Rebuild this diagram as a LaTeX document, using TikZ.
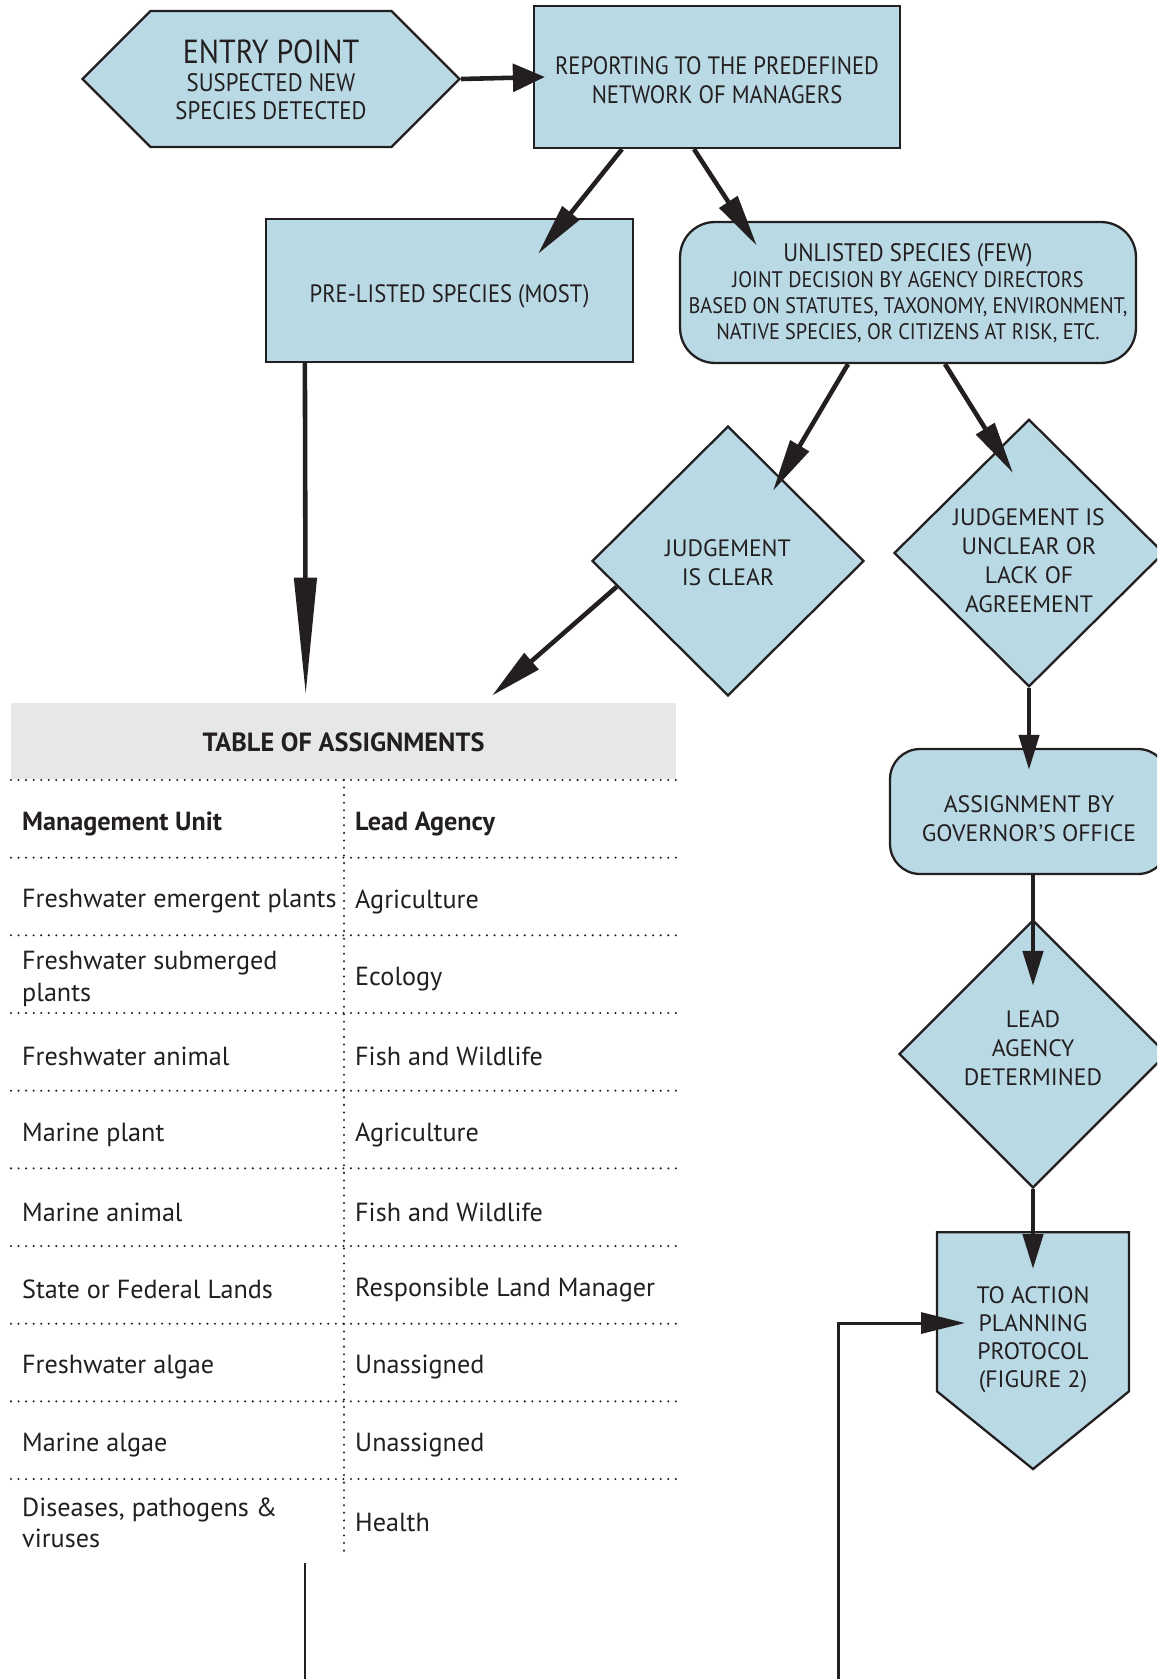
\documentclass[tikz,border=0pt]{standalone}
\usepackage{fontspec}
\setmainfont{PT Sans}
\newfontfamily\narrowfont{PT Sans}[FakeStretch=0.9]
\usetikzlibrary{positioning,arrows.meta,shapes.geometric,shapes.symbols}

\definecolor{boxblue}{RGB}{185,217,229}
\definecolor{headgray}{RGB}{230,231,232}
\definecolor{inkc}{RGB}{35,31,32}

% lines of a box, moved down by #1 inside the node
\newcommand{\droptext}[2]{%
  \raisebox{-#1}[\height][\depth]{\begin{tabular}{@{}c@{}}#2\end{tabular}}}

\begin{document}
\begin{tikzpicture}[
  x=0.02cm, y=-0.02cm,
  every node/.style={text=inkc},
  >={Triangle[length=1.05cm,width=0.42cm]},
  box/.style={draw=inkc, fill=boxblue, line width=1.3pt, align=center, inner sep=0pt},
  rbox/.style={box, rounded corners=0.7cm},
  dia/.style={box, diamond, font=\fontsize{13.5}{16.5}\selectfont},
  arr/.style={draw=inkc, line width=2.6pt, ->},
  vhead/.style={-{Triangle[length=0.7cm,width=0.4cm]}},
  cell/.style={anchor=west, align=left, font=\fontsize{14.9}{18}\selectfont},
  dotline/.style={draw=inkc, line width=1.3pt, line cap=round, dash pattern=on 0pt off 4.3pt},
]
\clip (0,0) rectangle (1157,1679);

% flow boxes
\node[box, signal, signal to=west and east, signal pointer angle=90,
      minimum width=7.54cm, minimum height=2.72cm,
      font=\narrowfont\fontsize{14.4}{16}\selectfont] (entry) at (271,79)
  {\droptext{2.6pt}{{\fontsize{19}{20}\selectfont ENTRY POINT}\\
   SUSPECTED NEW\\SPECIES DETECTED}};
\node[box, minimum width=7.32cm, minimum height=2.84cm,
      font=\narrowfont\fontsize{14.3}{16.5}\selectfont] (report) at (717,77)
  {\droptext{3.7pt}{REPORTING TO THE PREDEFINED\\NETWORK OF MANAGERS}};
\node[box, minimum width=7.34cm, minimum height=2.86cm,
      font=\narrowfont\fontsize{14.3}{16.5}\selectfont] (pre) at (449.5,290.5)
  {\droptext{3.7pt}{PRE-LISTED SPECIES (MOST)}};
\node[rbox, minimum width=9.12cm, minimum height=2.82cm,
      font=\narrowfont\fontsize{12.8}{14.8}\selectfont] (unlisted) at (908,292.5)
  {\droptext{1.8pt}{{\fontsize{14.4}{14.8}\selectfont UNLISTED SPECIES (FEW)}\\
   JOINT DECISION BY AGENCY DIRECTORS\\
   BASED ON STATUTES, TAXONOMY, ENVIRONMENT,\\
   NATIVE SPECIES, OR CITIZENS AT RISK, ETC.}};
\node[dia, minimum width=5.44cm, minimum height=5.4cm] (clear) at (728,561)
  {\droptext{2.3pt}{JUDGEMENT\\IS CLEAR}};
\node[dia, minimum width=5.4cm, minimum height=5.34cm] (unclear) at (1029,553)
  {\droptext{6pt}{JUDGEMENT IS\\UNCLEAR OR\\LACK OF\\AGREEMENT}};
\node[rbox, rounded corners=0.6cm, minimum width=5.56cm, minimum height=2.5cm,
      font=\fontsize{13.5}{16.5}\selectfont] (governor) at (1029,811.5)
  {\droptext{5.4pt}{ASSIGNMENT BY\\GOVERNOR'S OFFICE}};
\node[dia, minimum width=5.36cm, minimum height=5.36cm] (lead) at (1033,1054)
  {\droptext{-2pt}{LEAD\\AGENCY\\DETERMINED}};
\node[box, signal, signal to=south, signal pointer angle=102,
      minimum width=3.84cm, minimum height=4.1cm, anchor=north,
      font=\fontsize{13.5}{16}\selectfont] (action) at (1033,1231)
  {\droptext{16pt}{TO ACTION\\PLANNING\\PROTOCOL\\(FIGURE 2)}};

% table of assignments
\node[fill=headgray, minimum width=13.3cm, minimum height=1.52cm,
      font=\bfseries\fontsize{15}{18}\selectfont] (tabhead) at (343.5,741)
  {\droptext{2.6pt}{TABLE OF ASSIGNMENTS}};
\foreach \k in {0,...,9}
  \draw[dotline] (11,780+77.67*\k) -- (676,780+77.67*\k);
\draw[dotline] (344,780) -- (344,1557);
\foreach \k/\unit/\agency in {
    0/{\textbf{Management Unit}}/{\textbf{Lead Agency}},
    1/{Freshwater emergent plants}/{Agriculture},
    2/{Freshwater submerged\\plants}/{Ecology},
    3/{Freshwater animal}/{Fish and Wildlife},
    4/{Marine plant}/{Agriculture},
    5/{Marine animal}/{Fish and Wildlife},
    6/{State or Federal Lands}/{Responsible Land Manager},
    7/{Freshwater algae}/{Unassigned},
    8/{Marine algae}/{Unassigned},
    9/{Diseases, pathogens \&\\viruses}/{Health}} {
  \node[cell] (mu\k) at (16,780+77.67*\k+43.8) {\unit};
  \node[cell] (la\k) at (349,780+77.67*\k+43.8) {\agency};
}

% connectors
\draw[arr, -{Triangle[length=0.64cm,width=0.55cm]}]
  (entry.east) -- ([shift={(12,0)}]report.west);
\draw[arr] ([xshift=-1.9cm]report.south) -- ([shift={(-96,36)}]pre.north east);
\draw[arr] ([shift={(-23,0)}]report.south) -- ([shift={(78,25)}]unlisted.north west);
\draw[arr] ([shift={(-60,0)}]unlisted.south) -- ([shift={(45,66)}]clear.north);
\draw[arr] ([shift={(37,0)}]unlisted.south) -- ([shift={(-16,55)}]unclear.north);
\draw[arr] (clear.193) -- ([shift={(148.5,-7)}]tabhead.north);
\draw[arr, -{Triangle[length=2.34cm,width=0.44cm]}]
  ([shift={(40,0)}]pre.south west) -- ([shift={(295,-8)}]tabhead.north west);
\draw[arr, vhead] (unclear.south) -- ([shift={(0,22)}]governor.north);
\draw[arr, vhead] (lead.north |- governor.south) -- ([shift={(0,67)}]lead.north);
\draw[arr, vhead] (lead.south) -- ([shift={(0,38)}]action.north);
\coordinate (loopin) at (838,1679);
\draw[draw=inkc, line width=1.7pt, -{Triangle[length=0.88cm,width=0.42cm]}]
  (loopin) |- ([shift={(-68,92)}]action.north);
\coordinate (tabfoot) at (305,1563);
\coordinate (tabexit) at (305,1679);
\draw[draw=inkc, line width=1.5pt] (tabfoot) -- (tabexit);
\end{tikzpicture}
\end{document}
